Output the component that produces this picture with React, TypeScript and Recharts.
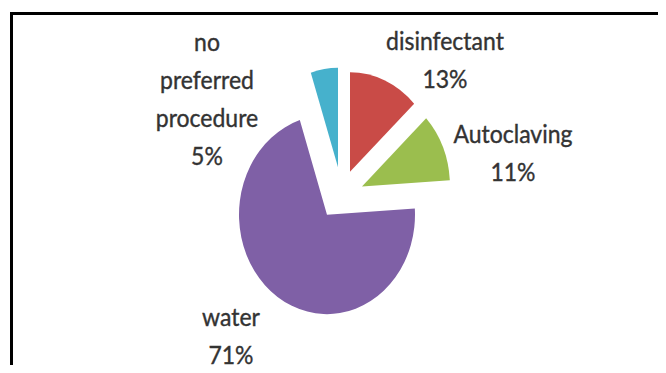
import React from "react";
import { Cell, Pie, PieChart } from "recharts";

const names = ["disinfectant", "Autoclaving", "water", "no preferred procedure"];
const shares = [13, 11, 71, 5];
const colors = ["#C94B47", "#9BBE4E", "#7F60A6", "#46B1CC"];

// chart is drawn in a squashed box and stretched back vertically, like the source image
const STRETCH = 1.13;
const W = 666;
const H = 373;
const CX = 327;
const CY = 190;
const R = 88;

// how far each exploded slice is pulled away from the centre (px)
const explode = [
  [23, -38],
  [35, -25],
  [0, 0],
  [11, -42],
];
// label block centre, relative to the pie centre
const labelPos = [
  [118, -138],
  [186, -56],
  [-96, 106],
  [-120, -104],
];
const LINE = 33.6;

const data = names.map((name, i) => ({ name, value: shares[i] }));

const renderLabel = (props: any) => {
  const { cx, cy, index, value, name } = props;
  const lines = [...String(name).split(" "), `${value}%`];
  const x = cx + labelPos[index][0];
  const y0 = cy + labelPos[index][1] - ((lines.length - 1) * LINE) / 2;
  return (
    <text
      key={`lbl-${index}`}
      x={x}
      y={y0}
      textAnchor="middle"
      dominantBaseline="central"
      fill="#333"
      stroke="#333"
      strokeWidth={0.35}
      fontSize={23}
      fontFamily="Lato, 'Open Sans', sans-serif"
    >
      {lines.map((l, j) => (
        <tspan key={j} x={x} y={y0 + j * LINE}>
          {l}
        </tspan>
      ))}
    </text>
  );
};

// draw the big slice first, then the pulled-out ones
const order = [2, 0, 1, 3];

export default function App() {
  return (
    <div
      style={{
        position: "relative",
        margin: -8,
        width: W,
        height: H,
        overflow: "hidden",
        background: "#fff",
      }}
    >
      <div
        style={{
          position: "absolute",
          left: 0,
          top: 0,
          transform: `scaleY(${STRETCH})`,
          transformOrigin: "0 0",
        }}
      >
        <PieChart width={W} height={H / STRETCH} margin={{ top: 0, right: 0, bottom: 0, left: 0 }}>
          {order.map((k) => (
            <Pie
              key={k}
              data={data}
              dataKey="value"
              nameKey="name"
              cx={CX + explode[k][0]}
              cy={CY + explode[k][1]}
              outerRadius={R}
              startAngle={90}
              endAngle={-270}
              stroke="none"
              isAnimationActive={false}
              labelLine={false}
              label={k === 2 ? renderLabel : false}
            >
              {data.map((d, i) => (
                <Cell key={d.name} fill={i === k ? colors[i] : "none"} stroke="none" />
              ))}
            </Pie>
          ))}
        </PieChart>
      </div>
      {/* frame lines of the cropped screenshot */}
      <div
        style={{ position: "absolute", left: 2, top: 12, width: 3, height: H, background: "#000" }}
      />
      <div
        style={{
          position: "absolute",
          left: 10,
          top: 12,
          width: 656,
          height: H + 20,
          border: "3px solid #000",
          boxSizing: "border-box",
        }}
      />
    </div>
  );
}
